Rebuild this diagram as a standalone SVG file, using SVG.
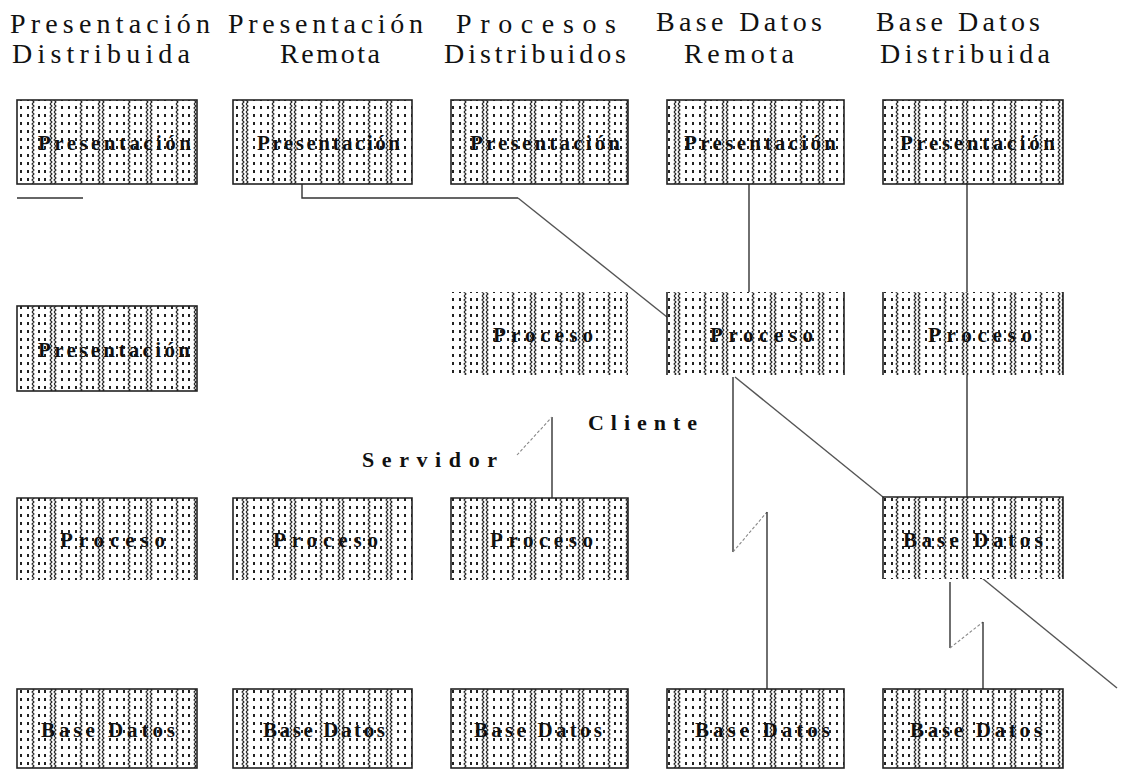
<svg xmlns="http://www.w3.org/2000/svg" width="1121" height="770" viewBox="0 0 1121 770">
<style>
.hdr{font-family:"Liberation Serif","Times New Roman",serif;font-size:28px;fill:#111}
.lbl{font-family:"Liberation Serif","Times New Roman",serif;font-size:21px;font-weight:bold;fill:#111;text-anchor:start}
.side{font-family:"Liberation Serif","Times New Roman",serif;font-size:22px;font-weight:bold;fill:#111}
.fill{fill:url(#dots);stroke:none}
.bd{fill:none;stroke:#222;stroke-width:1.6}
.ln{fill:none;stroke:#333;stroke-width:1.4}
.dg{fill:none;stroke:#555;stroke-width:1.4}
.dsh{fill:none;stroke:#888;stroke-width:1.1;stroke-dasharray:3 2}
</style>
<defs>
<pattern id="dots" patternUnits="userSpaceOnUse" width="48" height="8">
<rect width="48" height="8" fill="#fff"/>
<path d="M2,0 L4,2 L2,4 L4,6 L2,8 M6,0 L8,2 L6,4 L8,6 L6,8" stroke="#222" stroke-width="1.1" fill="none"/>
<rect x="13" y="2" width="2" height="3" fill="#222"/>
<rect x="20" y="2" width="2" height="3" fill="#222"/>
<rect x="27" y="2" width="2" height="3" fill="#222"/>
<path d="M32,0 L34,2 L32,4 L34,6 L32,8" stroke="#222" stroke-width="1.1" fill="none"/>
<rect x="38" y="2" width="2" height="3" fill="#222"/>
<rect x="44" y="2" width="2" height="3" fill="#222"/>
</pattern>
</defs>
<rect width="1121" height="770" fill="#fff"/>
<g id="headers">
<text class="hdr" x="10" y="33" textLength="200" lengthAdjust="spacing">Presentación</text>
<text class="hdr" x="12" y="63" textLength="178" lengthAdjust="spacing">Distribuida</text>
<text class="hdr" x="228" y="33" textLength="195" lengthAdjust="spacing">Presentación</text>
<text class="hdr" x="280" y="63" textLength="100" lengthAdjust="spacing">Remota</text>
<text class="hdr" x="456" y="33" textLength="160" lengthAdjust="spacing">Procesos</text>
<text class="hdr" x="444" y="63" textLength="182" lengthAdjust="spacing">Distribuidos</text>
<text class="hdr" x="656" y="31" textLength="166" lengthAdjust="spacing">Base Datos</text>
<text class="hdr" x="684" y="63" textLength="110" lengthAdjust="spacing">Remota</text>
<text class="hdr" x="876" y="31" textLength="164" lengthAdjust="spacing">Base Datos</text>
<text class="hdr" x="880" y="63" textLength="170" lengthAdjust="spacing">Distribuida</text>
</g>
<g id="connectors">
<path class="ln" d="M17,198 H83"/>
<path class="ln" d="M302,184 V198 H518"/>
<path class="dg" d="M518,198 L667,317"/>
<path class="ln" d="M749,184 V292"/>
<path class="ln" d="M967,184 V292"/>
<path class="ln" d="M967,375 V497"/>
<path class="dg" d="M735,377 L883,497"/>
<path class="ln" d="M733,377 V552"/>
<path class="dsh" d="M733,552 L767,512"/>
<path class="ln" d="M767,512 V689"/>
<path class="ln" d="M552,417 V498"/>
<path class="dsh" d="M517,455 L552,417"/>
<path class="ln" d="M950,582 V648"/>
<path class="dsh" d="M950,648 L983,622"/>
<path class="ln" d="M983,622 V689"/>
<path class="dg" d="M982,578 L1117,688"/>
</g>
<g id="labels">
<text class="side" x="362" y="467" textLength="135" lengthAdjust="spacing">Servidor</text>
<text class="side" x="588" y="430" textLength="109" lengthAdjust="spacing">Cliente</text>
</g>
<g id="n11"><rect class="fill" x="17" y="100" width="180" height="84"/><rect class="bd" x="17" y="100" width="180" height="84"/><text class="lbl" x="38" y="150" textLength="153" lengthAdjust="spacing">Presentación</text></g>
<g id="n21"><rect class="fill" x="233" y="100" width="179" height="84"/><rect class="bd" x="233" y="100" width="179" height="84"/><text class="lbl" x="257" y="150" textLength="143" lengthAdjust="spacing">Presentación</text></g>
<g id="n31"><rect class="fill" x="451" y="100" width="177" height="84"/><rect class="bd" x="451" y="100" width="177" height="84"/><text class="lbl" x="470" y="150" textLength="150" lengthAdjust="spacing">Presentación</text></g>
<g id="n41"><rect class="fill" x="667" y="100" width="177" height="84"/><rect class="bd" x="667" y="100" width="177" height="84"/><text class="lbl" x="684" y="150" textLength="152" lengthAdjust="spacing">Presentación</text></g>
<g id="n51"><rect class="fill" x="883" y="100" width="180" height="84"/><rect class="bd" x="883" y="100" width="180" height="84"/><text class="lbl" x="900" y="150" textLength="155" lengthAdjust="spacing">Presentación</text></g>
<g id="n12"><rect class="fill" x="17" y="306" width="180" height="85"/><rect class="bd" x="17" y="306" width="180" height="85"/><text class="lbl" x="38" y="357" textLength="152" lengthAdjust="spacing">Presentación</text></g>
<g id="n32"><rect class="fill" x="451" y="292" width="177" height="83"/><text class="lbl" x="493" y="342" textLength="100" lengthAdjust="spacing">Proceso</text></g>
<g id="n42"><rect class="fill" x="667" y="292" width="177" height="83"/><path class="bd" d="M667,292 V375 M844,292 V375"/><text class="lbl" x="710" y="342" textLength="103" lengthAdjust="spacing">Proceso</text></g>
<g id="n52"><rect class="fill" x="883" y="292" width="180" height="83"/><path class="bd" d="M883,292 V375 M1063,292 V375"/><text class="lbl" x="928" y="342" textLength="104" lengthAdjust="spacing">Proceso</text></g>
<g id="n13"><rect class="fill" x="17" y="498" width="180" height="82"/><path class="bd" d="M17,580 V498 H197 V580"/><text class="lbl" x="60" y="547" textLength="105" lengthAdjust="spacing">Proceso</text></g>
<g id="n23"><rect class="fill" x="233" y="498" width="179" height="82"/><path class="bd" d="M233,580 V498 H412 V580"/><text class="lbl" x="273" y="547" textLength="105" lengthAdjust="spacing">Proceso</text></g>
<g id="n33"><rect class="fill" x="451" y="498" width="177" height="82"/><path class="bd" d="M451,580 V498 H628 V580"/><text class="lbl" x="490" y="547" textLength="103" lengthAdjust="spacing">Proceso</text></g>
<g id="n53"><rect class="fill" x="883" y="497" width="180" height="82"/><path class="bd" d="M883,579 V497 H1063 V579"/><text class="lbl" x="903" y="547" textLength="140" lengthAdjust="spacing">Base Datos</text></g>
<g id="n14"><rect class="fill" x="17" y="689" width="180" height="79"/><rect class="bd" x="17" y="689" width="180" height="79"/><text class="lbl" x="41" y="737" textLength="134" lengthAdjust="spacing">Base Datos</text></g>
<g id="n24"><rect class="fill" x="233" y="689" width="179" height="79"/><rect class="bd" x="233" y="689" width="179" height="79"/><text class="lbl" x="263" y="737" textLength="122" lengthAdjust="spacing">Base Datos</text></g>
<g id="n34"><rect class="fill" x="451" y="689" width="177" height="79"/><rect class="bd" x="451" y="689" width="177" height="79"/><text class="lbl" x="474" y="737" textLength="128" lengthAdjust="spacing">Base Datos</text></g>
<g id="n44"><rect class="fill" x="667" y="689" width="177" height="79"/><rect class="bd" x="667" y="689" width="177" height="79"/><text class="lbl" x="695" y="737" textLength="135" lengthAdjust="spacing">Base Datos</text></g>
<g id="n54"><rect class="fill" x="883" y="689" width="180" height="79"/><rect class="bd" x="883" y="689" width="180" height="79"/><text class="lbl" x="910" y="737" textLength="132" lengthAdjust="spacing">Base Datos</text></g>
</svg>
